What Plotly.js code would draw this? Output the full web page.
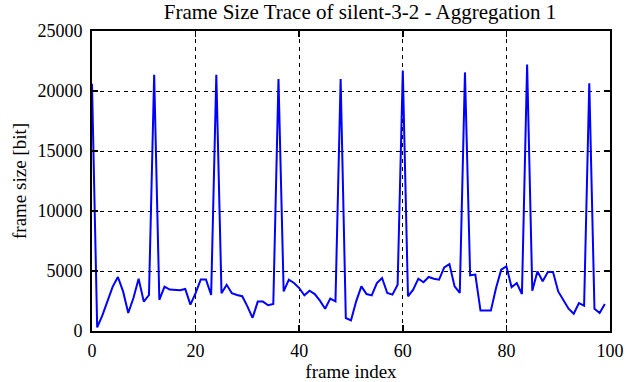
<!DOCTYPE html>
<html>
<head>
<meta charset="utf-8">
<script src="https://cdn.plot.ly/plotly-3.0.1.min.js"></script>
<style>
html,body{margin:0;padding:0;background:#fff;}
#chart{width:626px;height:382px;}
#chart .xtick text, #chart .ytick text { font-family: "Liberation Serif", "Times New Roman", serif !important; }
</style>
</head>
<body>
<div id="chart"></div>
<script>
// Frame sizes [bit] for frames 0..99
const frameSizes = [
  20600, 300, 1300, 2500, 3700, 4500, 3300, 1500, 2750, 4350,
  2450, 3000, 21350, 2600, 3700, 3450, 3450, 3400, 3500, 2200,
  3150, 4300, 4300, 3000, 21350, 3150, 3850, 3150, 3000, 2900,
  2050, 1100, 2450, 2450, 2150, 2250, 21000, 3300, 4280, 4000,
  3580, 2970, 3360, 3080, 2530, 1860, 2700, 2470, 21000, 1080,
  890, 2470, 3720, 3080, 2970, 4000, 4420, 3170, 3030, 3860,
  21700, 2890, 3440, 4360, 4060, 4500, 4360, 4280, 5300, 5580,
  3720, 3170, 21550, 4640, 4700, 1700, 1700, 1700, 3580, 5110,
  5390, 3640, 4000, 3080, 22200, 3360, 4970, 4140, 4920, 4920,
  3300, 2610, 1860, 1440, 2330, 2110, 20650, 1860, 1500, 2250
];
const frameIndex = frameSizes.map((_, i) => i);
const xTicks = [0, 20, 40, 60, 80, 100];
const yTicks = [0, 5000, 10000, 15000, 20000, 25000];

const FAM = '"Liberation Serif", "Times New Roman", serif';
function f(size) { return {family: FAM, size: size, color: '#000'}; }

function axis(extra) {
  return Object.assign({
    showline: true, linecolor: '#000', linewidth: 2, mirror: 'ticks',
    ticks: 'inside', ticklen: 6, tickwidth: 1.5, tickcolor: '#000',
    showgrid: true, gridcolor: '#000', gridwidth: 1, griddash: '4px,4px',
    zeroline: false, tickfont: f(18)
  }, extra);
}

Plotly.newPlot('chart', [{
  x: frameIndex, y: frameSizes, type: 'scatter', mode: 'lines',
  line: {color: 'rgb(0,0,255)', width: 2}
}], {
  width: 626, height: 382,
  margin: {l: 92, r: 16, t: 31, b: 51},
  paper_bgcolor: '#fff', plot_bgcolor: '#fff',
  font: f(18),
  showlegend: false,
  title: {text: 'Frame Size Trace of silent-3-2 - Aggregation 1', font: f(21),
          x: 360 / 626, xref: 'container', xanchor: 'center', y: 1 - 12 / 382, yref: 'container', yanchor: 'middle'},
  xaxis: axis({range: [0, 100], tickvals: xTicks, ticktext: xTicks.map(String),
    ticklabelstandoff: 2,
    title: {text: 'frame index', font: f(19), standoff: 4}}),
  yaxis: axis({range: [0, 25000], tickvals: yTicks, ticktext: yTicks.map(String),
    ticklabelstandoff: 4,
    title: {text: 'frame size [bit]', font: f(19), standoff: 6}})
}, {displayModeBar: false, staticPlot: true});
</script>
</body>
</html>
